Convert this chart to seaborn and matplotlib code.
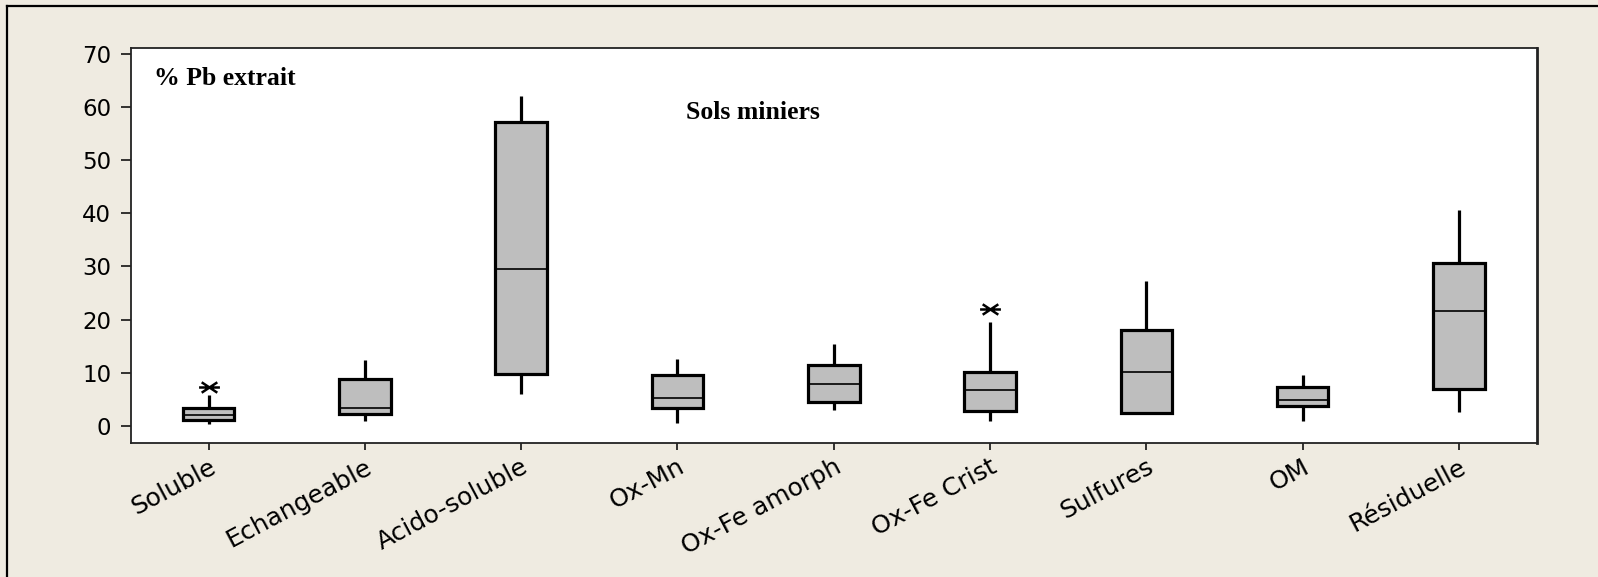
import numpy as np
import pandas as pd
import matplotlib
matplotlib.use('Agg')
import matplotlib.pyplot as plt
from matplotlib.path import Path
from matplotlib.lines import Line2D
import seaborn as sns

# fractions de l'extraction sequentielle
fractions = ['Soluble', 'Echangeable', 'Acido-soluble', 'Ox-Mn', 'Ox-Fe amorph',
             'Ox-Fe Crist', 'Sulfures', 'OM', 'Résiduelle']

# min, Q1, mediane, Q3, max (moustaches)
soluble = [0.4, 1.2, 2.1, 3.4, 5.8]
echangeable = [1.0, 2.3, 3.4, 8.8, 12.4]
acido_soluble = [6.0, 9.7, 29.6, 57.2, 62.0]
ox_mn = [0.6, 3.4, 5.3, 9.6, 12.6]
ox_fe_amorph = [3.0, 4.5, 7.9, 11.5, 15.4]
ox_fe_crist = [0.9, 2.9, 6.8, 10.2, 19.6]
sulfures = [2.4, 2.5, 10.2, 18.1, 27.3]
om = [0.9, 3.7, 4.8, 7.3, 9.5]
residuelle = [2.6, 7.0, 21.7, 30.7, 40.6]

# valeurs aberrantes (asterisques)
outlier_fractions = ['Soluble', 'Ox-Fe Crist']
outlier_values = [7.3, 22.0]

values = [soluble, echangeable, acido_soluble, ox_mn, ox_fe_amorph,
          ox_fe_crist, sulfures, om, residuelle]
df = pd.DataFrame([(f, v) for f, vals in zip(fractions, values) for v in vals],
                  columns=['fraction', 'pb'])
df_out = pd.DataFrame({'fraction': outlier_fractions, 'pb': outlier_values})

bg = '#EFEBE1'
fig = plt.figure(figsize=(15.98, 5.77), dpi=100, facecolor=bg)
ax = fig.add_axes([0.0817, 0.2314, 0.8801, 0.6846])
ax.set_facecolor('white')

sns.boxplot(data=df, x='fraction', y='pb', order=fractions, ax=ax,
            width=0.33, color='#BEBEBE', saturation=1, linecolor='black',
            linewidth=2.3, whis=(0, 100), showcaps=False, showfliers=False,
            medianprops={'linewidth': 1.2})

# asterisque aplati comme dans Minitab
star = Path([(-1, 0), (1, 0), (-0.75, -0.5), (0.75, 0.5), (-0.75, 0.5), (0.75, -0.5)],
            [Path.MOVETO, Path.LINETO, Path.MOVETO, Path.LINETO, Path.MOVETO, Path.LINETO])
sns.stripplot(data=df_out, x='fraction', y='pb', order=fractions, ax=ax,
              jitter=False, marker=star, size=15, color='black',
              edgecolor='black', linewidth=1.8)

ax.set_xlim(-0.5, 8.5)
ax.set_ylim(-3.3, 71.0)
ax.set_yticks(np.arange(0, 71, 10))
ax.set_xlabel('')
ax.set_ylabel('')
ax.tick_params(axis='y', direction='out', length=7, width=1.1, pad=7, labelsize=16.5, colors='black')
ax.tick_params(axis='x', direction='out', length=5, width=1.1, pad=3, labelsize=18, colors='black')
plt.setp(ax.get_xticklabels(), rotation=28, ha='right', rotation_mode='anchor')
for side in ['left', 'bottom', 'top', 'right']:
    ax.spines[side].set_color('#222222')
    ax.spines[side].set_linewidth(1.3)
ax.spines['right'].set_linewidth(2.0)

ax.text(0.0167, 0.925, '% Pb extrait', transform=ax.transAxes, ha='left', va='center',
        family='Liberation Serif', fontweight='bold', fontsize=18.5)
ax.text(0.4426, 0.839, 'Sols miniers', transform=ax.transAxes, ha='center', va='center',
        family='Liberation Serif', fontweight='bold', fontsize=18.5)

# cadre de la figure (haut et gauche)
fig.add_artist(Line2D([7 / 1598, 7 / 1598], [0, 1 - 6 / 577], transform=fig.transFigure,
                      color='black', linewidth=1.6))
fig.add_artist(Line2D([7 / 1598, 1], [1 - 6 / 577, 1 - 6 / 577], transform=fig.transFigure,
                      color='black', linewidth=1.6))

fig.savefig('out.png', dpi=100, facecolor=bg)
